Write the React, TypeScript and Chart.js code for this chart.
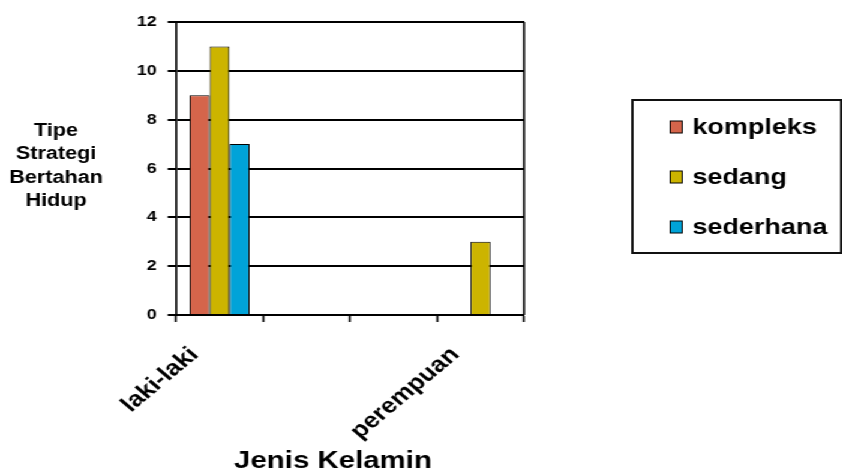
import React, { useEffect, useRef } from "react";
import { Chart, registerables } from "chart.js";

Chart.register(...registerables);

// ---- data ----
const categories = ["laki-laki", "", "", "perempuan"];
const kompleks = [9, null, null, 0];
const sedang = [11, null, null, 3];
const sederhana = [7, null, null, 0];
const seriesNames = ["kompleks", "sedang", "sederhana"];
const seriesColors = ["#D5654B", "#CCB400", "#00A3D8"];
const yTitleLines = ["Tipe", "Strategi", "Bertahan", "Hidup"];
const xTitle = "Jenis Kelamin";
const yMin = 0;
const yMax = 12;
const yStep = 2;

// ---- layout ----
const SX = 1.2; // horizontal stretch of the original picture
const W = 702;
const H = 473;
const FONT = '"Liberation Sans", Arial, Helvetica, sans-serif';

const decorPlugin = {
  id: "decor",
  afterDraw(chart: any) {
    const { ctx, chartArea: a } = chart;
    ctx.save();
    // plot border (top and right)
    ctx.strokeStyle = "#000";
    ctx.lineWidth = 2;
    ctx.beginPath();
    ctx.moveTo(Math.round(a.left), Math.round(a.top));
    ctx.lineTo(Math.round(a.right), Math.round(a.top));
    ctx.stroke();
    ctx.lineWidth = 1.7;
    ctx.beginPath();
    ctx.moveTo(a.right, a.top);
    ctx.lineTo(a.right, a.bottom);
    ctx.stroke();
    ctx.fillStyle = "#000";
    ctx.textAlign = "center";
    ctx.textBaseline = "middle";
    // y title (horizontal, multi-line)
    ctx.font = `bold 18px ${FONT}`;
    yTitleLines.forEach((t, i) => ctx.fillText(t, 46.7, 131 + i * 23.5));
    // x title
    ctx.font = `bold 24.5px ${FONT}`;
    ctx.fillText(xTitle, 277.5, 461);
    // legend box
    const lx = 527;
    const ly = 100;
    const lw = 174;
    const lh = 153;
    ctx.lineWidth = 2;
    ctx.strokeStyle = "#111";
    ctx.strokeRect(lx, ly, lw, lh);
    ctx.textAlign = "left";
    ctx.font = `bold 22.5px ${FONT}`;
    chart.data.datasets.forEach((ds: any, i: number) => {
      const cy = 127 + i * 50;
      ctx.fillStyle = ds.backgroundColor;
      ctx.fillRect(558.5, cy - 6, 10, 12);
      ctx.lineWidth = 1;
      ctx.strokeStyle = "#000";
      ctx.strokeRect(558.5, cy - 6, 10, 12);
      ctx.fillStyle = "#000";
      ctx.fillText(ds.label, 577, cy + 1);
    });
    ctx.restore();
  },
};

export default function App() {
  const ref = useRef<HTMLCanvasElement | null>(null);

  useEffect(() => {
    if (!ref.current) return;
    const series = [kompleks, sedang, sederhana];
    const chart = new Chart(ref.current, {
      type: "bar",
      data: {
        labels: categories,
        datasets: series.map((d, i) => ({
          label: seriesNames[i],
          data: d,
          backgroundColor: seriesColors[i],
          borderColor: "#000",
          borderWidth: 1,
          categoryPercentage: 0.69,
          barPercentage: 1,
        })),
      },
      options: {
        responsive: false,
        animation: false,
        devicePixelRatio: 1,
        layout: { padding: { left: 0, top: 22, right: W - 436.7, bottom: 0 } },
        plugins: {
          legend: { display: false },
          tooltip: { enabled: false },
          title: { display: false },
        },
        scales: {
          x: {
            grid: {
              display: true,
              drawOnChartArea: false,
              drawTicks: true,
              tickLength: 7,
              tickWidth: 1.7,
              color: "#000",
              offset: true,
            },
            border: { display: true, color: "#000", width: 2 },
            ticks: {
              autoSkip: false,
              minRotation: 45,
              maxRotation: 45,
              labelOffset: -21,
              padding: 20,
              color: "#000",
              font: { family: FONT, size: 22, weight: "bold" },
            },
            afterFit: (axis: any) => {
              axis.height = H - 315;
            },
          },
          y: {
            min: yMin,
            max: yMax,
            ticks: {
              stepSize: yStep,
              padding: 9,
              color: "#000",
              font: { family: FONT, size: 15, weight: "bold" },
            },
            grid: {
              color: "#000",
              lineWidth: 2,
              drawTicks: true,
              tickLength: 7,
              tickColor: "#000",
            },
            border: { display: true, color: "#000", width: 1.7 },
            afterFit: (axis: any) => {
              axis.width = 146.7;
            },
          },
        },
      },
      plugins: [decorPlugin],
    });
    return () => chart.destroy();
  }, []);

  return (
    <div
      style={{
        position: "fixed",
        left: 0,
        top: 0,
        width: W,
        height: H,
        background: "#fff",
        transform: `scaleX(${SX})`,
        transformOrigin: "0 0",
      }}
    >
      <canvas ref={ref} width={W} height={H} style={{ display: "block" }} />
    </div>
  );
}
